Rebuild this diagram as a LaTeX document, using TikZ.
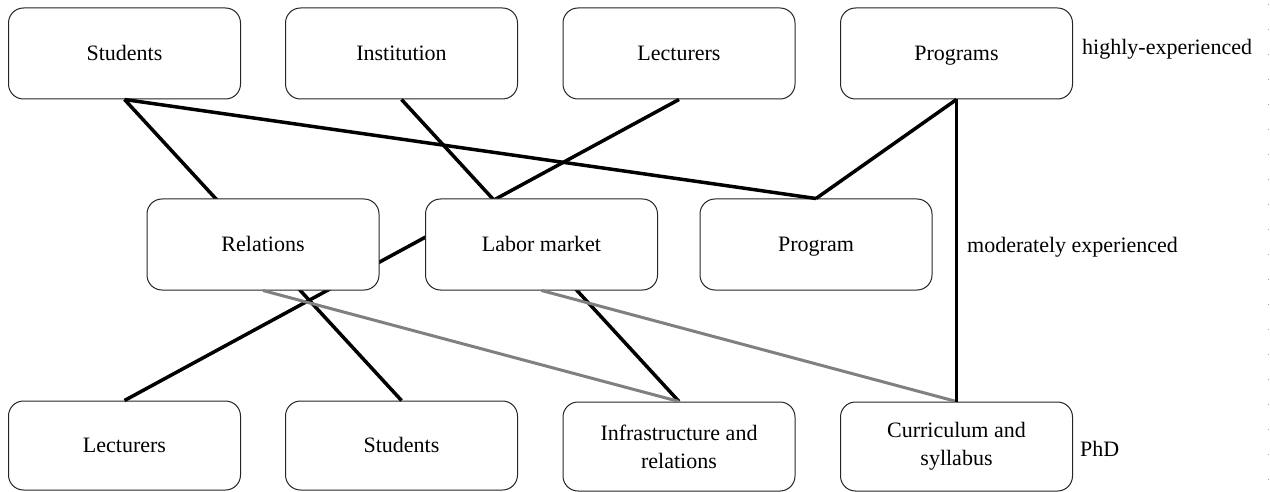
\documentclass[tikz,border=0pt]{standalone}
\usepackage{fontspec}
\setmainfont{Liberation Serif}
\newfontfamily\boxfont{Liberation Serif}
\begin{document}
\begin{tikzpicture}[x=1pt,y=-1pt,
  box/.style={draw=black!85, line width=1pt, fill=white, rounded corners=15pt,
    minimum width=232pt, minimum height=91pt, inner sep=2pt, align=center,
    font=\boxfont\fontsize{22}{28}\selectfont},
  oneline/.style={text height=17pt, text depth=2.5pt},
  levellabel/.style={anchor=west, inner sep=0pt, font=\boxfont\fontsize{22}{28}\selectfont},
  strong/.style={line width=3.5pt, black},
  weak/.style={line width=3pt, black!50}]
\useasboundingbox (0,0) rectangle (1270,492);

% faint dotted page edge on the right
\coordinate (edgetop) at (1268,4);
\coordinate (edgebot) at (1268,492);
\draw[black!35, line width=0.8pt, dash pattern=on 1pt off 24pt] (edgetop) -- (edgebot);

% top row
\node[box, oneline] (stuA) at (124.5,53.5) {Students};
\node[box, oneline] (ins)  at (401.5,53.5) {Institution};
\node[box, oneline] (lecA) at (679,53.5)   {Lecturers};
\node[box, oneline] (prgs) at (956.5,53.5) {Programs};

% bottom row
\node[box, oneline, minimum height=89pt] (lecB) at (124.5,445.5) {Lecturers};
\node[box, oneline, minimum height=89pt] (stuB) at (401.5,445.5) {Students};
\node[box, minimum height=89pt] (infra) at (679,446.5) {Infrastructure and\\relations};
\node[box, minimum height=89pt] (curr) at (956.5,446.5) {Curriculum and\\syllabus};

% long links that run behind the middle row
\draw[strong] (stuA.south) -- (stuB.north);
\draw[strong] (ins.south) -- (infra.north);
\draw[strong] (lecA.south) -- (lecB.north);

% middle row
\node[box, oneline] (rel) at (263,244.5)   {Relations};
\node[box, oneline] (lab) at (541.5,244.5) {Labor market};
\node[box, oneline] (prg) at (816,244.5)   {Program};

% remaining links
\draw[weak] (rel.south) -- (infra.north);
\draw[weak] (lab.south) -- (curr.north);
\draw[strong] (stuA.south) -- (prg.north);
\draw[strong] (prgs.south) -- (prg.north);
\draw[strong] (prgs.south) -- (curr.north);

% level labels
\node[levellabel] (lhigh) at (1082,49)  {highly-experienced};
\node[levellabel] (lmod)  at (967,247)  {moderately experienced};
\node[levellabel] (lphd)  at (1080,449) {PhD};
\end{tikzpicture}
\end{document}
